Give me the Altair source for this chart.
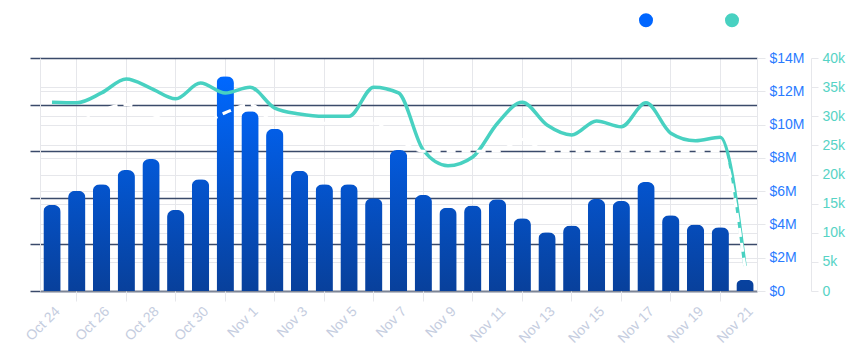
import altair as alt
import pandas as pd

days = ["Oct 24", "Oct 25", "Oct 26", "Oct 27", "Oct 28", "Oct 29", "Oct 30", "Oct 31",
        "Nov 1", "Nov 2", "Nov 3", "Nov 4", "Nov 5", "Nov 6", "Nov 7", "Nov 8", "Nov 9",
        "Nov 10", "Nov 11", "Nov 12", "Nov 13", "Nov 14", "Nov 15", "Nov 16", "Nov 17",
        "Nov 18", "Nov 19", "Nov 20", "Nov 21"]

# revenue in millions of dollars
revenue_m = [5.17, 6.03, 6.41, 7.27, 7.93, 4.87, 6.71, 12.9, 10.8, 9.74, 7.23, 6.41, 6.41,
             5.57, 8.47, 5.77, 5.0, 5.13, 5.51, 4.37, 3.53, 3.93, 5.53, 5.41, 6.55, 4.55,
             3.99, 3.83, 0.66]

# transactions in thousands
transactions_k = [32.4, 32.3, 34.0, 36.4, 34.8, 33.0, 35.7, 34.0, 35.0, 31.4, 30.4, 30.0,
                  30.0, 35.0, 34.0, 24.2, 21.5, 23.0, 28.8, 32.4, 28.5, 26.8, 29.2, 28.2,
                  32.3, 27.1, 25.8, 26.4, 4.3]

# hidden white dashed series (index 0-100)
baseline_idx = [72, 72.5, 77.5, 80, 76, 72, 72, 76.5, 80, 72.5, 72, 72, 72, 72, 65, 60, 60,
                60, 60, 65, 60, 60, 60, 60, 60, 60, 60, 60, 10]

label_days = days[0::2]
grid_days = days[1::2]

df = pd.DataFrame({
    "day": days,
    "revenue": [v * 1e6 for v in revenue_m],
    "transactions": [v * 1000 for v in transactions_k],
    "baseline": baseline_idx,
})

FONT = "Liberation Sans"
LIGHT = "#e6e7eb"
DARK = "#3a4a6a"

base = alt.Chart(df)

grad_expr = (
    "{gradient: 'linear', x1: 0, y1: 0, x2: 0, y2: 1, stops: ["
    "{offset: 0, color: 'rgb(' + round(8 - 8*datum.f) + ',' + round(64 + 40*datum.f) + ',' + round(155 + 100*datum.f) + ')'},"
    "{offset: 1, color: 'rgb(8,64,155)'}]}"
)

bars = base.transform_calculate(
    f="min(1, datum.revenue / 12900000)"
).transform_calculate(
    grad=grad_expr
).mark_bar(cornerRadiusTopLeft=7, cornerRadiusTopRight=7).encode(
    x=alt.X("day:N", sort=days,
            scale=alt.Scale(paddingInner=0.3, paddingOuter=0.135),
            axis=alt.Axis(values=label_days, labelAngle=-45, ticks=False, grid=False,
                          domainColor="#7d8596", domainWidth=1.5, labelColor="#c5cde0",
                          labelFontSize=14, labelFont=FONT, labelPadding=13, labelOffset=1,
                          title=None, orient="bottom")),
    y=alt.Y("revenue:Q", scale=alt.Scale(domain=[0, 14e6], nice=False),
            axis=alt.Axis(orient="right", values=[i * 2e6 for i in range(8)],
                          labelExpr="datum.value == 0 ? '$0' : '$' + datum.value / 1000000 + 'M'",
                          labelColor="#2a7bff", labelFontSize=14, labelFont=FONT,
                          grid=True, gridColor=LIGHT, tickColor=LIGHT, tickSize=8,
                          domainColor=LIGHT, labelPadding=4, title=None)),
    fill=alt.Fill("grad:N", scale=None),
)

line = base.transform_calculate(series="'Transactions'").mark_line(
    interpolate="monotone", strokeWidth=3.5
).encode(
    x=alt.X("day:N", sort=days,
            axis=alt.Axis(values=grid_days, labels=False, ticks=True, tickSize=10,
                          tickColor=LIGHT, grid=True, gridColor=LIGHT, domain=False,
                          title=None, orient="bottom")),
    y=alt.Y("transactions:Q", scale=alt.Scale(domain=[0, 40000], nice=False),
            axis=alt.Axis(orient="right", offset=54, values=[i * 5000 for i in range(9)],
                          labelExpr="datum.value == 0 ? '0' : datum.value / 1000 + 'k'",
                          labelColor="#56d3c5", labelFontSize=14, labelFont=FONT,
                          grid=True, gridColor=LIGHT, tickColor=LIGHT, tickSize=7,
                          domainColor=LIGHT, labelPadding=4, title=None)),
    color=alt.Color("series:N",
                    scale=alt.Scale(domain=["Revenue", "Transactions"],
                                    range=["#0066ff", "#48d1c1"]),
                    legend=alt.Legend(orient="none", direction="horizontal", title=None,
                                      legendX=599, legendY=-45, padding=0,
                                      symbolType="circle", symbolSize=49,
                                      symbolStrokeWidth=7, labelColor="white",
                                      labelFontSize=14, labelFont=FONT, labelOffset=4,
                                      columnPadding=0)),
)

white = base.mark_line(interpolate="monotone", strokeWidth=3, strokeDash=[9, 6],
                       color="white").encode(
    x=alt.X("day:N", sort=days, axis=None),
    y=alt.Y("baseline:Q", scale=alt.Scale(domain=[0, 100], nice=False),
            axis=alt.Axis(orient="left", values=[0, 20, 40, 60, 80, 100], labels=False,
                          tickSize=10, tickColor=DARK, tickWidth=1.5, grid=True,
                          gridColor=DARK, gridWidth=1.5, domainColor=LIGHT, title=None)),
)

chart = alt.layer(bars, line, white).resolve_scale(y="independent").resolve_axis(
    x="independent"
).properties(
    width=717, height=233,
    autosize=alt.AutoSizeParams(type="none"),
    padding={"left": 40, "top": 58, "right": 93, "bottom": 63},
).configure_view(stroke=None).configure(font=FONT)

chart.save("out.html", embed_options={"renderer": "svg", "actions": False})
